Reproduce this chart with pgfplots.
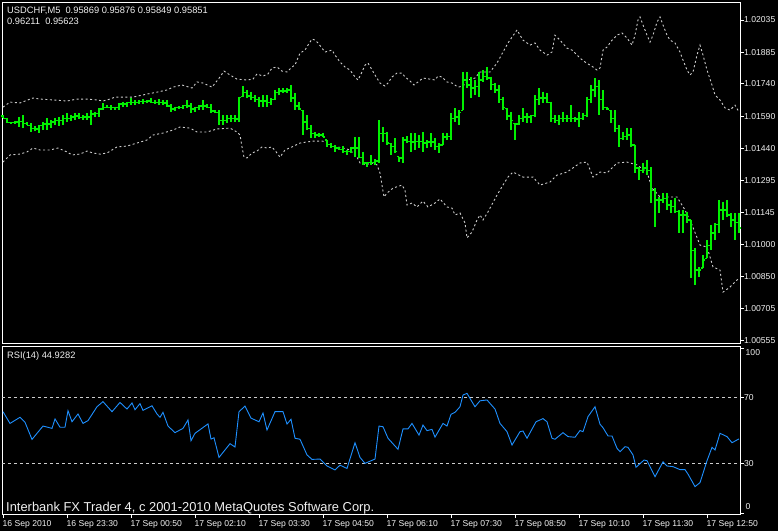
\documentclass[border=0pt]{standalone}
\usepackage{fontspec}
\setmainfont{Liberation Sans}
\usepackage{pgfplots}
\pgfplotsset{compat=1.18}
\usepackage{pgfplotstable}
\definecolor{barg}{RGB}{0,240,0}
\definecolor{band}{RGB}{205,205,205}
\definecolor{rsic}{RGB}{30,144,255}
\definecolor{txt}{RGB}{240,240,240}
\newcommand\ticksize{\fontsize{8.6}{10}\selectfont}
\pgfdeclareplotmark{tickR}{\pgfpathmoveto{\pgfpointorigin}\pgfpathlineto{\pgfpoint{2pt}{0pt}}\pgfusepathqstroke}
\pgfdeclareplotmark{tickL}{\pgfpathmoveto{\pgfpointorigin}\pgfpathlineto{\pgfpoint{-2pt}{0pt}}\pgfusepathqstroke}

\pgfplotstableread{
i o h l c
0 1.01592 1.01596 1.01581 1.01582
1 1.01581 1.01581 1.01558 1.01562
2 1.01562 1.01565 1.01555 1.01563
3 1.01563 1.01570 1.01555 1.01564
4 1.01564 1.01588 1.01542 1.01566
5 1.01566 1.01596 1.01535 1.01559
6 1.01559 1.01565 1.01550 1.01550
7 1.01550 1.01558 1.01519 1.01534
8 1.01534 1.01546 1.01524 1.01532
9 1.01532 1.01550 1.01515 1.01546
10 1.01546 1.01565 1.01527 1.01555
11 1.01555 1.01581 1.01527 1.01555
12 1.01555 1.01573 1.01535 1.01564
13 1.01564 1.01581 1.01550 1.01569
14 1.01569 1.01588 1.01546 1.01573
15 1.01573 1.01596 1.01550 1.01582
16 1.01582 1.01604 1.01565 1.01582
17 1.01582 1.01596 1.01570 1.01587
18 1.01587 1.01604 1.01573 1.01592
19 1.01592 1.01604 1.01579 1.01585
20 1.01585 1.01596 1.01573 1.01587
21 1.01587 1.01604 1.01573 1.01587
22 1.01587 1.01619 1.01550 1.01601
23 1.01601 1.01611 1.01588 1.01605
24 1.01605 1.01627 1.01586 1.01624
25 1.01624 1.01650 1.01619 1.01633
26 1.01633 1.01642 1.01627 1.01633
27 1.01633 1.01642 1.01619 1.01629
28 1.01629 1.01635 1.01619 1.01633
29 1.01633 1.01650 1.01619 1.01647
30 1.01647 1.01658 1.01635 1.01647
31 1.01647 1.01658 1.01635 1.01654
32 1.01654 1.01673 1.01642 1.01654
33 1.01654 1.01666 1.01642 1.01656
34 1.01656 1.01666 1.01647 1.01659
35 1.01659 1.01669 1.01647 1.01659
36 1.01659 1.01666 1.01650 1.01661
37 1.01661 1.01673 1.01650 1.01656
38 1.01656 1.01666 1.01647 1.01656
39 1.01656 1.01669 1.01642 1.01654
40 1.01654 1.01666 1.01642 1.01652
41 1.01652 1.01666 1.01635 1.01638
42 1.01638 1.01647 1.01611 1.01624
43 1.01624 1.01635 1.01616 1.01629
44 1.01629 1.01638 1.01623 1.01633
45 1.01633 1.01642 1.01623 1.01640
46 1.01640 1.01666 1.01627 1.01638
47 1.01638 1.01650 1.01604 1.01624
48 1.01624 1.01635 1.01611 1.01629
49 1.01629 1.01642 1.01619 1.01638
50 1.01638 1.01666 1.01619 1.01638
51 1.01638 1.01647 1.01627 1.01633
52 1.01633 1.01647 1.01607 1.01615
53 1.01615 1.01619 1.01604 1.01608
54 1.01608 1.01619 1.01550 1.01573
55 1.01573 1.01596 1.01550 1.01573
56 1.01573 1.01596 1.01558 1.01582
57 1.01582 1.01596 1.01565 1.01582
58 1.01582 1.01596 1.01565 1.01578
59 1.01578 1.01681 1.01565 1.01679
60 1.01681 1.01730 1.01681 1.01702
61 1.01702 1.01712 1.01673 1.01684
62 1.01684 1.01704 1.01666 1.01677
63 1.01677 1.01689 1.01658 1.01666
64 1.01666 1.01681 1.01635 1.01661
65 1.01661 1.01689 1.01632 1.01661
66 1.01661 1.01689 1.01635 1.01656
67 1.01656 1.01673 1.01642 1.01670
68 1.01670 1.01712 1.01666 1.01702
69 1.01702 1.01720 1.01689 1.01707
70 1.01707 1.01720 1.01696 1.01707
71 1.01707 1.01720 1.01696 1.01712
72 1.01712 1.01735 1.01658 1.01675
73 1.01675 1.01696 1.01619 1.01638
74 1.01638 1.01658 1.01619 1.01624
75 1.01619 1.01619 1.01504 1.01564
76 1.01564 1.01596 1.01527 1.01536
77 1.01536 1.01550 1.01489 1.01509
78 1.01509 1.01519 1.01489 1.01504
79 1.01504 1.01512 1.01493 1.01504
80 1.01504 1.01515 1.01493 1.01495
81 1.01481 1.01481 1.01450 1.01462
82 1.01462 1.01466 1.01443 1.01449
83 1.01449 1.01458 1.01427 1.01444
84 1.01444 1.01450 1.01435 1.01439
85 1.01439 1.01453 1.01420 1.01430
86 1.01430 1.01435 1.01412 1.01430
87 1.01430 1.01450 1.01420 1.01444
88 1.01444 1.01496 1.01404 1.01444
89 1.01444 1.01496 1.01396 1.01402
90 1.01402 1.01427 1.01366 1.01375
91 1.01375 1.01381 1.01358 1.01379
92 1.01379 1.01412 1.01366 1.01379
93 1.01379 1.01392 1.01366 1.01384
94 1.01384 1.01573 1.01373 1.01513
95 1.01513 1.01542 1.01473 1.01509
96 1.01509 1.01519 1.01458 1.01467
97 1.01466 1.01466 1.01412 1.01453
98 1.01453 1.01489 1.01420 1.01426
99 1.01404 1.01404 1.01381 1.01398
100 1.01398 1.01496 1.01373 1.01481
101 1.01481 1.01499 1.01466 1.01476
102 1.01476 1.01512 1.01427 1.01472
103 1.01472 1.01512 1.01435 1.01476
104 1.01476 1.01504 1.01443 1.01476
105 1.01476 1.01519 1.01427 1.01467
106 1.01467 1.01481 1.01443 1.01472
107 1.01472 1.01512 1.01450 1.01472
108 1.01472 1.01489 1.01435 1.01453
109 1.01453 1.01466 1.01420 1.01458
110 1.01458 1.01515 1.01458 1.01495
111 1.01495 1.01512 1.01481 1.01499
112 1.01499 1.01604 1.01481 1.01582
113 1.01582 1.01627 1.01565 1.01587
114 1.01587 1.01619 1.01550 1.01610
115 1.01619 1.01796 1.01619 1.01758
116 1.01758 1.01796 1.01720 1.01735
117 1.01735 1.01773 1.01673 1.01721
118 1.01721 1.01758 1.01689 1.01730
119 1.01730 1.01796 1.01681 1.01758
120 1.01758 1.01804 1.01750 1.01776
121 1.01776 1.01819 1.01758 1.01767
122 1.01767 1.01773 1.01712 1.01739
123 1.01739 1.01743 1.01696 1.01712
124 1.01712 1.01735 1.01650 1.01666
125 1.01666 1.01681 1.01619 1.01629
126 1.01627 1.01627 1.01573 1.01592
127 1.01592 1.01611 1.01527 1.01573
128 1.01558 1.01558 1.01481 1.01555
129 1.01555 1.01596 1.01550 1.01582
130 1.01582 1.01627 1.01565 1.01587
131 1.01587 1.01604 1.01558 1.01587
132 1.01587 1.01596 1.01558 1.01596
133 1.01596 1.01689 1.01588 1.01666
134 1.01666 1.01720 1.01642 1.01675
135 1.01675 1.01704 1.01650 1.01675
136 1.01675 1.01696 1.01650 1.01656
137 1.01656 1.01658 1.01565 1.01582
138 1.01582 1.01596 1.01558 1.01573
139 1.01573 1.01596 1.01550 1.01582
140 1.01582 1.01611 1.01565 1.01582
141 1.01582 1.01596 1.01565 1.01582
142 1.01582 1.01642 1.01565 1.01582
143 1.01582 1.01588 1.01565 1.01578
144 1.01578 1.01611 1.01542 1.01582
145 1.01582 1.01604 1.01573 1.01596
146 1.01596 1.01681 1.01588 1.01666
147 1.01666 1.01735 1.01650 1.01712
148 1.01712 1.01766 1.01681 1.01730
149 1.01730 1.01758 1.01596 1.01666
150 1.01666 1.01712 1.01619 1.01629
151 1.01629 1.01635 1.01619 1.01624
152 1.01619 1.01619 1.01558 1.01582
153 1.01582 1.01619 1.01519 1.01536
154 1.01536 1.01550 1.01450 1.01490
155 1.01490 1.01519 1.01481 1.01499
156 1.01499 1.01535 1.01481 1.01504
157 1.01504 1.01535 1.01450 1.01458
158 1.01458 1.01458 1.01327 1.01352
159 1.01352 1.01356 1.01296 1.01342
160 1.01342 1.01375 1.01329 1.01352
161 1.01352 1.01389 1.01319 1.01342
162 1.01342 1.01356 1.01190 1.01250
163 1.01250 1.01259 1.01079 1.01204
164 1.01204 1.01218 1.01144 1.01204
165 1.01204 1.01236 1.01190 1.01213
166 1.01213 1.01236 1.01158 1.01181
167 1.01181 1.01204 1.01144 1.01176
168 1.01176 1.01213 1.01144 1.01149
169 1.01149 1.01158 1.01052 1.01135
170 1.01135 1.01158 1.01052 1.01135
171 1.01135 1.01149 1.01098 1.01112
172 1.01112 1.01112 1.00844 1.00973
173 1.00973 1.00983 1.00812 1.00881
174 1.00881 1.00895 1.00849 1.00881
175 1.00890 1.00950 1.00890 1.00927
176 1.00936 1.01019 1.00936 1.00996
177 1.00996 1.01089 1.00973 1.01052
178 1.01052 1.01098 1.01019 1.01089
179 1.01089 1.01204 1.01052 1.01158
180 1.01158 1.01195 1.01112 1.01158
181 1.01158 1.01204 1.01126 1.01135
182 1.01135 1.01144 1.01079 1.01112
183 1.01112 1.01144 1.01019 1.01102
184 1.01102 1.01144 1.01052 1.01075
}\barsdata

\pgfplotstableread{
i p
0 1.01633
1.75 1.01656
4.25 1.01652
7.5 1.01675
9.25 1.01670
12.5 1.01666
16 1.01661
18.5 1.01670
21 1.01670
23.5 1.01666
25 1.01661
26.75 1.01670
28 1.01679
30 1.01679
32.5 1.01679
36 1.01693
38.5 1.01702
41 1.01712
42.5 1.01725
44.75 1.01735
47.25 1.01721
48.5 1.01749
50 1.01744
52.25 1.01725
54.25 1.01772
55.25 1.01799
56.75 1.01781
58.5 1.01762
61 1.01758
62.5 1.01762
63.5 1.01786
65 1.01776
66.25 1.01786
67.25 1.01813
68.5 1.01818
69.75 1.01799
71 1.01795
72.25 1.01818
73 1.01827
73.5 1.01850
74.25 1.01882
75.5 1.01896
76.25 1.01919
77.25 1.01947
78 1.01942
78.75 1.01929
79.75 1.01905
80.5 1.01887
82.25 1.01896
83 1.01873
84.25 1.01841
85.5 1.01818
86.75 1.01804
88 1.01772
88.75 1.01758
89.75 1.01795
90.5 1.01827
91.25 1.01836
92 1.01813
93 1.01781
94.25 1.01744
95.5 1.01730
96.25 1.01744
97.25 1.01772
98.5 1.01790
99.75 1.01790
100.5 1.01772
101.5 1.01758
102.75 1.01735
103.75 1.01749
105 1.01767
106.75 1.01762
108 1.01758
108.75 1.01776
109.75 1.01772
111 1.01749
112.25 1.01744
113.75 1.01725
115 1.01730
116.25 1.01758
118 1.01767
119.25 1.01795
120.5 1.01795
121.75 1.01795
123.5 1.01836
125 1.01887
126.25 1.01929
128.5 1.01989
130 1.01942
131.75 1.01919
133 1.01929
134.25 1.01896
136 1.01873
137.25 1.01887
138 1.01965
139.25 1.01942
141 1.01905
142.25 1.01896
144.25 1.01859
145.5 1.01841
147.5 1.01818
148.5 1.01804
149.25 1.01813
150 1.01896
151 1.01910
152.25 1.01942
153.5 1.01965
154.75 1.01975
156 1.01952
157.25 1.01919
158 1.01965
158.75 1.02035
159.25 1.02049
160 1.02012
161 1.01965
161.75 1.01933
162.5 1.01965
163.5 1.02025
164.25 1.02049
165 1.02012
166 1.01965
166.75 1.01942
168 1.01929
169.25 1.01887
170 1.01850
171 1.01804
171.75 1.01781
172.5 1.01795
173.5 1.01873
174.25 1.01919
175 1.01873
176 1.01804
177.25 1.01735
178 1.01689
179.25 1.01666
180.5 1.01629
181.75 1.01619
183 1.01642
184 1.01610
}\upband

\pgfplotstableread{
i p
0 1.01379
1.75 1.01412
4.25 1.01416
6 1.01426
7.5 1.01444
9.25 1.01435
11.75 1.01435
13.75 1.01444
16 1.01426
17.25 1.01412
19.25 1.01416
21 1.01430
22.5 1.01421
24.25 1.01416
26 1.01421
28.5 1.01449
31 1.01453
33.5 1.01467
36 1.01481
37.5 1.01504
40 1.01513
42.5 1.01527
44.25 1.01541
46.75 1.01536
48.5 1.01518
51 1.01518
53.5 1.01532
56.75 1.01536
58.5 1.01518
59.25 1.01504
59.75 1.01449
60.25 1.01402
61 1.01398
62.25 1.01421
63.5 1.01430
64.75 1.01449
66 1.01444
67.25 1.01449
68.5 1.01421
69.25 1.01402
70.5 1.01435
72.25 1.01449
74.25 1.01467
76 1.01472
77.5 1.01476
79.75 1.01476
81 1.01472
82.25 1.01458
83.5 1.01449
85 1.01444
86.75 1.01435
88.5 1.01402
89.25 1.01375
90.5 1.01366
92.25 1.01375
93.5 1.01366
94.25 1.01329
94.75 1.01273
95.25 1.01218
96 1.01236
97.5 1.01259
99.75 1.01273
100.5 1.01250
101 1.01181
102.25 1.01190
103.5 1.01172
105 1.01199
106.25 1.01172
108 1.01190
109.25 1.01209
111 1.01172
112.25 1.01167
113 1.01135
114.25 1.01144
115.5 1.01098
116 1.01029
117.25 1.01056
118.5 1.01112
119.25 1.01135
120 1.01112
121.25 1.01149
123.5 1.01227
125 1.01273
126.25 1.01310
127.5 1.01333
130 1.01310
132.5 1.01310
134.25 1.01273
136.75 1.01287
138.5 1.01319
141 1.01333
144.25 1.01375
146 1.01379
147.5 1.01310
149.25 1.01333
151 1.01329
153.5 1.01375
156 1.01379
158.5 1.01366
161 1.01333
162.25 1.01259
164.25 1.01218
168.5 1.01218
170.5 1.01158
172.25 1.01089
174.25 1.00996
176 1.00987
177.5 1.00895
179.25 1.00881
180 1.00779
181.75 1.00802
183.5 1.00835
184 1.00840
}\lowband

\pgfplotstableread{
i r
0 61.4
1.75 54.3
4.25 58
5.5 55
7.25 44.6
10 52.7
12.25 51.3
13 57
14.25 52
15.5 52
16.25 62
17.25 55.3
18.75 60
20 54.3
21.25 56
23.5 64.4
25 67.5
27.25 61.4
29.25 67
31 63
32.25 66.7
33 62.6
34.25 66.3
35 62.2
37.25 65
38.5 60
39.25 58
40 61
41.25 52.7
43 48.7
45 51.3
46.25 56.4
47 43.8
48 48.3
51.25 54
52 44.8
52.75 45.6
54 33.7
56.75 42
58 40
59 61.4
60.5 64.8
62 57.5
64 55.3
65 60.6
66 50.3
68 61.4
70 61.4
71 53.9
72 56.8
73 45.3
74.25 44.7
76 35.2
77.25 32.5
79.25 32.7
81 28.5
83 26.1
84.25 29
86 27
88 42.6
89.25 33.7
90.5 30.1
93 32.7
94 52.7
95 52.3
96.25 45.3
98.75 38.6
100 51
101.25 51
102.25 54.3
104 47.2
105 53.3
106 49.9
107.25 50.7
108 46
110 54.3
111 52.7
112 59.8
113 61
114.25 64.4
115 71.5
116 72.5
118 64.4
119.25 68
121 68.5
123 63
124.25 54.3
126 49.3
127.25 41.2
129.25 49.3
130 49.7
131 45.3
133.25 55.3
135 57.2
136 55.3
137.25 45.3
138 44.7
140 48.7
141.25 46.3
143 45.9
144.25 50
145 49.3
146.25 58.4
148 64.4
149.25 53.8
150 51.7
151.25 46.7
152.25 46.7
153.5 39.2
154.25 37.2
155.5 40.2
156.25 39.8
157.5 35.2
158.25 27.7
160.25 32.1
161 31.7
163 22
165 31
166 28.5
167.5 28.1
169.25 26.3
170.5 26.3
171.25 23.6
173 16
174.25 18.4
176 31.7
177.25 39.8
178 38.2
179.25 48.3
181 46.3
182.25 42.6
184 44.93
}\rsidata

\pgfplotsset{
  mt/.style={
    scale only axis, width=738pt,
    xmin=-0.25, xmax=184.25,
    axis line style={white, line width=0.9pt},
    tick style={white, line width=0.9pt},
    major tick length=4pt,
    tick align=outside,
    ytick pos=right, yticklabel pos=right,
    yticklabel style={font=\ticksize, text=txt, anchor=west, inner sep=0pt, xshift=0pt},
  }
}

\begin{document}
\begin{tikzpicture}[x=1pt,y=1pt]
\fill[black] (0pt,0pt) rectangle (778pt,-531pt);

% main price panel
\begin{axis}[mt, at={(2pt,-2pt)}, anchor=north west, height=341pt,
  ymin=1.00544, ymax=1.02118,
  xtick=\empty,
  ytick={1.00555,1.00705,1.00850,1.01000,1.01145,1.01295,1.01440,1.01590,1.01740,1.01885,1.02035},
  yticklabels={1.00555,1.00705,1.00850,1.01000,1.01145,1.01295,1.01440,1.01590,1.01740,1.01885,1.02035},
]
\addplot[band, line width=0.9pt, dash pattern=on 2pt off 2.5pt] table[x=i,y=p]{\upband};
\addplot[band, line width=0.9pt, dash pattern=on 2pt off 2.5pt] table[x=i,y=p]{\lowband};
\pgfplotsinvokeforeach{0,...,184}{
  \pgfplotstablegetelem{#1}{h}\of\barsdata \let\hv\pgfplotsretval
  \pgfplotstablegetelem{#1}{l}\of\barsdata \let\lv\pgfplotsretval
  \edef\tmp{\noexpand\addplot[barg, line width=1.6pt, forget plot] coordinates {(#1,\hv) (#1,\lv)};}\tmp
}
\addplot[only marks, mark=tickR, mark options={draw=barg, line width=1.1pt}] table[x=i,y=c]{\barsdata};
\addplot[only marks, mark=tickL, mark options={draw=barg, line width=1.1pt}] table[x=i,y=o]{\barsdata};
\end{axis}

% RSI panel
\begin{axis}[mt, at={(2pt,-346pt)}, anchor=north west, height=168pt,
  ymin=-0.6, ymax=101.2,
  ytick={0,30,70,100}, yticklabels={,30,70,},
  xtick={0,16,32,48,64,80,96,112,128,144,160,176},
  xtick pos=left, xticklabel pos=left,
  xticklabels={16 Sep 2010,16 Sep 23:30,17 Sep 00:50,17 Sep 02:10,17 Sep 03:30,17 Sep 04:50,17 Sep 06:10,17 Sep 07:30,17 Sep 08:50,17 Sep 10:10,17 Sep 11:30,17 Sep 12:50},
  xticklabel style={font=\ticksize, text=txt, anchor=north west, inner sep=0pt, xshift=-0.5pt, yshift=-2.5pt},
]
\addplot[band, line width=0.8pt, dash pattern=on 3pt off 3pt] coordinates {(-0.25,70) (184.25,70)};
\addplot[band, line width=0.8pt, dash pattern=on 3pt off 3pt] coordinates {(-0.25,30) (184.25,30)};
\addplot[rsic, line width=0.9pt] table[x=i,y=r]{\rsidata};
\end{axis}

% texts
\node[anchor=west, inner sep=0pt, text=txt, font=\fontsize{9.3}{10}\selectfont] at (7pt,-10.5pt) {USDCHF,M5\ \ 0.95869 0.95876 0.95849 0.95851};
\node[anchor=west, inner sep=0pt, text=txt, font=\fontsize{9.3}{10}\selectfont] at (7pt,-21pt) {0.96211\ \ 0.95623};
\node[anchor=west, inner sep=0pt, text=txt, font=\fontsize{9.3}{10}\selectfont] at (7pt,-356pt) {RSI(14) 44.9282};
\node[anchor=base west, inner sep=0pt, text=txt, font=\fontsize{12.9}{14}\selectfont] at (6pt,-511.5pt) {Interbank FX Trader 4, c 2001-2010 MetaQuotes Software Corp.};
\node[anchor=west, inner sep=0pt, text=txt, font=\ticksize] at (745.5pt,-352.7pt) {100};
\node[anchor=west, inner sep=0pt, text=txt, font=\ticksize] at (745.5pt,-506.7pt) {0};

\pgfresetboundingbox
\path[use as bounding box] (0pt,0pt) rectangle (778pt,-531pt);
\end{tikzpicture}
\end{document}
